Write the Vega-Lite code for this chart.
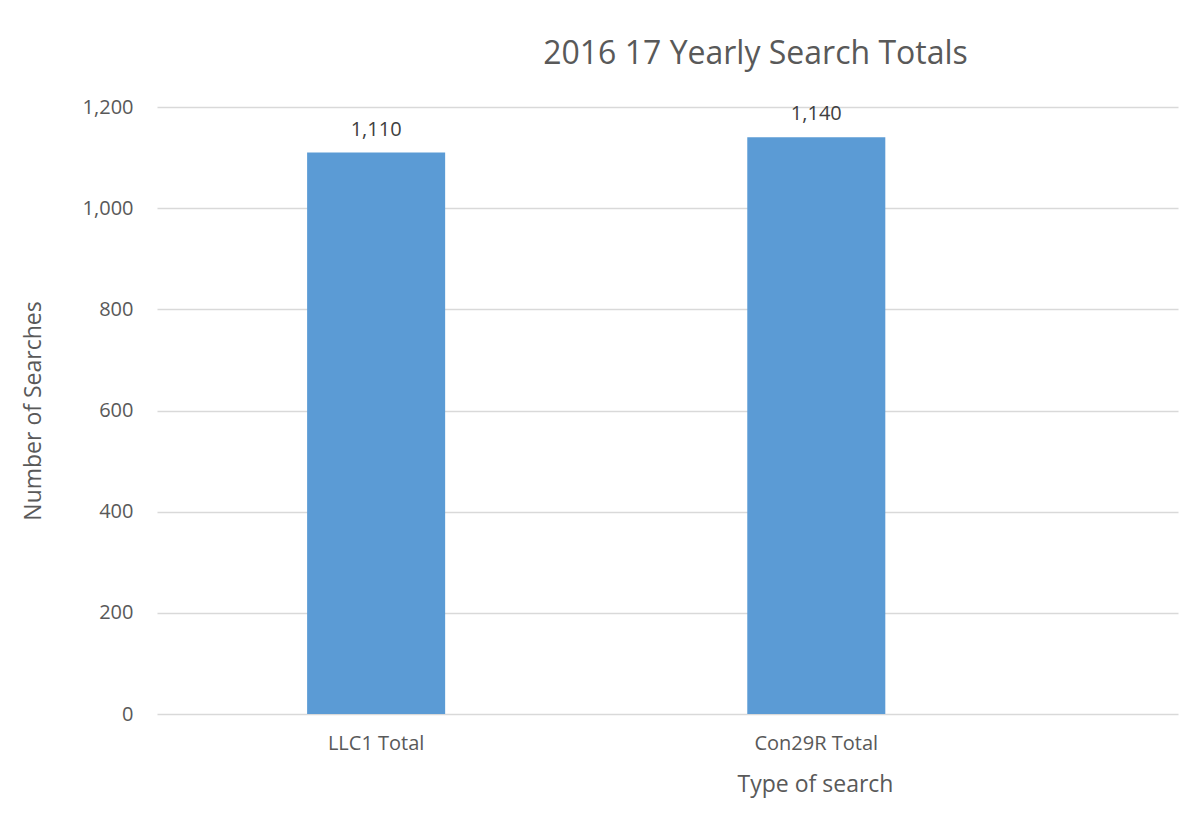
{
  "$schema": "https://vega.github.io/schema/vega-lite/v6.json",
  "width": 1021,
  "height": 607,
  "autosize": "none",
  "padding": {"left": 157, "top": 107, "right": 5, "bottom": 116},
  "background": "white",
  "config": {
    "font": "Open Sans",
    "view": {"stroke": null}
  },
  "title": {
    "text": "2016 17 Yearly Search Totals",
    "font": "Open Sans",
    "fontSize": 32,
    "fontWeight": "normal",
    "color": "#595959",
    "anchor": "middle",
    "dx": 88,
    "offset": 26
  },
  "data": {
    "values": [
      {"type": "LLC1 Total", "searches": 1110},
      {"type": "Con29R Total", "searches": 1140}
    ]
  },
  "encoding": {
    "x": {
      "field": "type",
      "type": "nominal",
      "sort": null,
      "scale": {"paddingInner": 0.6864, "paddingOuter": 0.503, "align": 0.339},
      "axis": {
        "labelAngle": 0,
        "domain": false,
        "ticks": false,
        "labelFont": "Open Sans",
        "labelFontSize": 20,
        "labelColor": "#595959",
        "labelPadding": 19,
        "title": "Type of search",
        "titleFont": "Open Sans",
        "titleFontSize": 23,
        "titleFontWeight": "normal",
        "titleColor": "#595959",
        "titleX": 658,
        "titleY": 59
      }
    },
    "y": {
      "field": "searches",
      "type": "quantitative",
      "scale": {"domain": [0, 1200], "nice": false},
      "axis": {
        "values": [0, 200, 400, 600, 800, 1000, 1200],
        "format": ",d",
        "domain": false,
        "ticks": false,
        "gridColor": "#D9D9D9",
        "gridWidth": 1.3,
        "labelFont": "Open Sans",
        "labelFontSize": 20,
        "labelColor": "#595959",
        "labelPadding": 24,
        "title": "Number of Searches",
        "titleFont": "Open Sans",
        "titleFontSize": 23,
        "titleFontWeight": "normal",
        "titleColor": "#595959",
        "titlePadding": 37
      }
    }
  },
  "layer": [
    {"mark": {"type": "bar", "color": "#5B9BD5"}},
    {
      "mark": {
        "type": "text",
        "baseline": "alphabetic",
        "dy": -17,
        "fontSize": 20,
        "font": "Open Sans",
        "color": "#404040"
      },
      "encoding": {
        "text": {"field": "searches", "type": "quantitative", "format": ",d"}
      }
    }
  ]
}
